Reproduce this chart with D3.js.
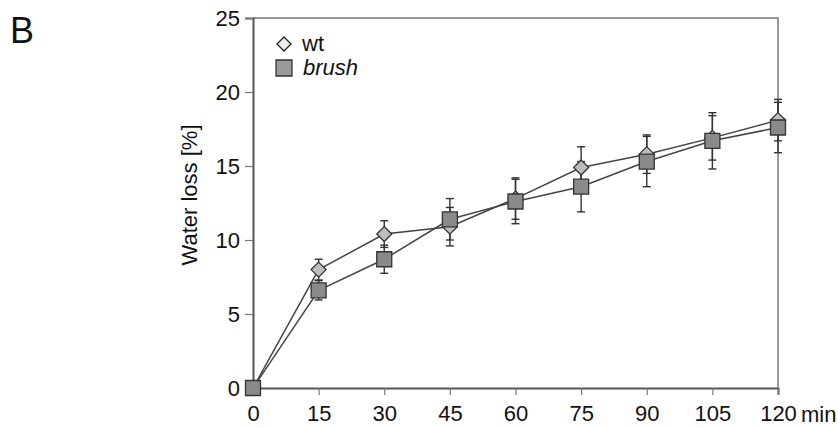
<!DOCTYPE html>
<html>
<head>
<meta charset="utf-8">
<script src="https://cdn.jsdelivr.net/npm/d3@7"></script>
<style>
  body { margin: 0; background: #fff; }
  svg text { font-family: "Liberation Sans", Arial, sans-serif; fill: #111; }
</style>
</head>
<body>
<svg id="chart" width="838" height="428"></svg>
<script>
//Time points in minutes
var times = [0, 15, 30, 45, 60, 75, 90, 105, 120];
//Mean water loss for wild type and brush
var wtValues = [0, 8.0, 10.4, 10.9, 12.8, 14.9, 15.8, 16.9, 18.1];
var brushValues = [0, 6.6, 8.7, 11.4, 12.6, 13.6, 15.3, 16.7, 17.6];
//Error bars (sd)
var wtErrors = [0, 0.7, 0.9, 1.3, 1.4, 1.4, 1.3, 1.5, 1.4];
var brushErrors = [0, 0.65, 0.95, 1.4, 1.5, 1.7, 1.7, 1.9, 1.7];
//Axis ticks
var yTicks = [0, 5, 10, 15, 20, 25];

//Plot area (named so they don't clash with window.top)
var plotLeft = 253, plotRight = 778, plotTop = 18, plotBottom = 388;
var fontSize = '22px';

var svg = d3.select('#chart');

var x = d3.scaleLinear().domain([0, 120]).range([plotLeft, plotRight]);
var y = d3.scaleLinear().domain([0, 25]).range([plotBottom, plotTop]);

//Panel letter
svg.append('text')
    .attr('x', 10).attr('y', 43)
    .style('font-size', '36px')
    .text('B');

//Frame: top and right border
svg.append('path')
    .attr('d', 'M' + plotLeft + ',' + plotTop + 'H' + plotRight + 'V' + plotBottom)
    .attr('fill', 'none')
    .attr('stroke', '#999')
    .attr('stroke-width', 2);

//Y axis
var yAxis = svg.append('g')
    .attr('transform', 'translate(' + plotLeft + ',0)')
    .call(d3.axisLeft(y).tickValues(yTicks).tickSize(8).tickPadding(5));
yAxis.select('.domain').attr('stroke', '#555').attr('stroke-width', 2);
yAxis.selectAll('.tick line').attr('stroke', '#777').attr('stroke-width', 1.2);
yAxis.selectAll('.tick text')
    .style('font-size', fontSize)
    .style('font-family', '"Liberation Sans", Arial, sans-serif')
    .attr('fill', '#111');

//X axis
var xAxis = svg.append('g')
    .attr('transform', 'translate(0,' + plotBottom + ')')
    .call(d3.axisBottom(x).tickValues(times).tickSize(7).tickPadding(10));
xAxis.select('.domain').attr('stroke', '#555').attr('stroke-width', 2);
xAxis.selectAll('.tick line').attr('stroke', '#777').attr('stroke-width', 1.2);
xAxis.selectAll('.tick text')
    .style('font-size', fontSize)
    .style('font-family', '"Liberation Sans", Arial, sans-serif')
    .attr('fill', '#111');

//Unit after last tick
svg.append('text')
    .attr('x', x(120) + 23).attr('y', 422)
    .style('font-size', fontSize)
    .text('min');

//Y axis title
svg.append('text')
    .attr('transform', 'translate(197,' + ((plotTop + plotBottom) / 2 - 8) + ') rotate(-90)')
    .attr('text-anchor', 'middle')
    .style('font-size', fontSize)
    .text('Water loss [%]');

var line = d3.line()
    .x(function(d, i){ return x(times[i]); })
    .y(function(d){ return y(d); });

var series = [
    { name: 'wt', values: wtValues, errors: wtErrors, shape: 'diamond' },
    { name: 'brush', values: brushValues, errors: brushErrors, shape: 'square' }
];

//Lines
series.forEach(function(s){
    svg.append('path')
        .datum(s.values)
        .attr('d', line)
        .attr('fill', 'none')
        .attr('stroke', '#444')
        .attr('stroke-width', 1.5);
});

//Error bars
series.forEach(function(s){
    var g = svg.append('g').attr('stroke', '#333').attr('stroke-width', 1.4);
    s.values.forEach(function(v, i){
        if (!s.errors[i]) return;
        var cx = x(times[i]);
        var y1 = y(v + s.errors[i]), y2 = y(v - s.errors[i]);
        g.append('line').attr('x1', cx).attr('x2', cx).attr('y1', y1).attr('y2', y2);
        g.append('line').attr('x1', cx - 4).attr('x2', cx + 4).attr('y1', y1).attr('y2', y1);
        g.append('line').attr('x1', cx - 4).attr('x2', cx + 4).attr('y1', y2).attr('y2', y2);
    });
});

//Markers
var diamond = 'M0,-7.5L7.5,0L0,7.5L-7.5,0Z';
var square = 'M-7.5,-7.5H7.5V7.5H-7.5Z';
series.forEach(function(s){
    s.values.forEach(function(v, i){
        svg.append('path')
            .attr('d', s.shape === 'diamond' ? diamond : square)
            .attr('transform', 'translate(' + x(times[i]) + ',' + y(v) + ')')
            .attr('fill', s.shape === 'diamond' ? '#bdbdbd' : '#8a8a8a')
            .attr('stroke', '#333')
            .attr('stroke-width', 1.3);
    });
});

//Legend
svg.append('path')
    .attr('d', 'M0,-7L7,0L0,7L-7,0Z')
    .attr('transform', 'translate(284,44)')
    .attr('fill', '#eee')
    .attr('stroke', '#222')
    .attr('stroke-width', 1.3);
svg.append('text')
    .attr('x', 302).attr('y', 51)
    .style('font-size', fontSize)
    .text('wt');
svg.append('path')
    .attr('d', 'M-8,-8H8V8H-8Z')
    .attr('transform', 'translate(284,68)')
    .attr('fill', '#9a9a9a')
    .attr('stroke', '#333')
    .attr('stroke-width', 1.3);
svg.append('text')
    .attr('x', 303).attr('y', 75)
    .style('font-size', fontSize)
    .style('font-style', 'italic')
    .text('brush');
</script>
</body>
</html>
